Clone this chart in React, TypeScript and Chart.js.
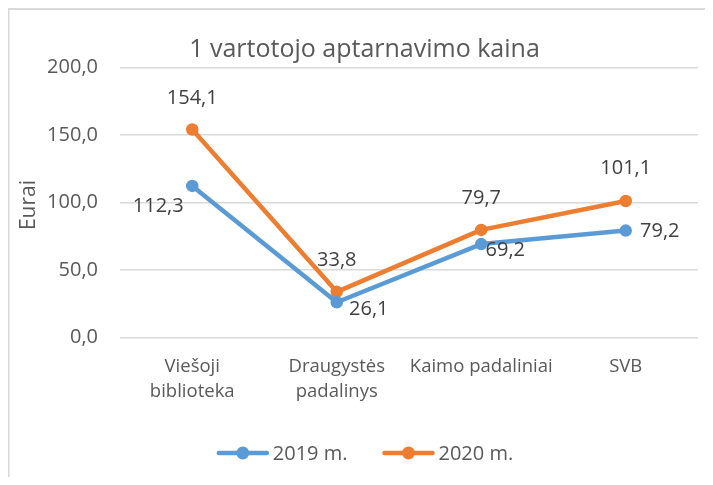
import React, { useEffect, useRef } from "react";
import { Chart, registerables } from "chart.js";

Chart.register(...registerables);

// ---- data ----
const categories: (string | string[])[] = [
  ["Viešoji", "biblioteka"],
  ["Draugystės", "padalinys"],
  "Kaimo padaliniai",
  "SVB",
];
const series2019 = [112.3, 26.1, 69.2, 79.2];
const series2020 = [154.1, 33.8, 79.7, 101.1];
const seriesNames = ["2019 m.", "2020 m."];
const yMin = 0;
const yMax = 200;
const yStep = 50;
const chartTitle = "1 vartotojo aptarnavimo kaina";
const yAxisTitle = "Eurai";

const FONT = "'Open Sans', 'Noto Sans', sans-serif";
const BLUE = "#5B9BD5";
const ORANGE = "#ED7D31";
const fmt = (v: number) => v.toFixed(1).replace(".", ",");

const decorPlugin = {
  id: "decor",
  beforeDraw(chart: any) {
    const ctx = chart.ctx;
    ctx.save();
    ctx.fillStyle = "#d9d9d9";
    ctx.fillRect(0, 0, chart.width, 2);
    ctx.fillRect(0, 0, 1.5, chart.height);
    ctx.restore();
  },
  afterDatasetsDraw(chart: any) {
    const ctx = chart.ctx;
    ctx.save();
    ctx.font = `20px ${FONT}`;
    ctx.fillStyle = "#404040";
    ctx.textAlign = "center";
    ctx.textBaseline = "middle";
    chart.data.datasets.forEach((ds: any, di: number) => {
      const meta = chart.getDatasetMeta(di);
      meta.data.forEach((pt: any, i: number) => {
        const [dx, dy] = ds.labelOffsets[i];
        ctx.fillText(fmt(ds.data[i]), pt.x + dx, pt.y + dy);
      });
    });
    ctx.restore();
  },
  afterDraw(chart: any, _args: any, opts: any) {
    const ctx = chart.ctx;
    ctx.save();
    // title
    ctx.font = `25px ${FONT}`;
    ctx.fillStyle = "#595959";
    ctx.textAlign = "center";
    ctx.textBaseline = "alphabetic";
    ctx.fillText(chartTitle, opts.titleX, opts.titleY);
    // y axis title
    ctx.save();
    ctx.translate(opts.axisTitleX, opts.axisTitleY);
    ctx.rotate(-Math.PI / 2);
    ctx.font = `21px ${FONT}`;
    ctx.textBaseline = "middle";
    ctx.fillText(yAxisTitle, 0, 0);
    ctx.restore();
    // legend
    ctx.font = `20px ${FONT}`;
    ctx.textBaseline = "middle";
    ctx.textAlign = "left";
    const lineLen = 48;
    const gap = 6;
    const itemGap = 37;
    const items = chart.data.datasets.map((ds: any) => ({
      label: ds.label,
      color: ds.borderColor,
      w: lineLen + gap + ctx.measureText(ds.label).width,
    }));
    const total = items.reduce((s: number, it: any) => s + it.w, 0) + itemGap * (items.length - 1);
    let x = opts.legendX - total / 2;
    const y = opts.legendY;
    items.forEach((it: any) => {
      ctx.strokeStyle = it.color;
      ctx.lineWidth = 4.5;
      ctx.lineCap = "round";
      ctx.beginPath();
      ctx.moveTo(x, y);
      ctx.lineTo(x + lineLen, y);
      ctx.stroke();
      ctx.fillStyle = it.color;
      ctx.beginPath();
      ctx.arc(x + lineLen / 2, y, 6.5, 0, Math.PI * 2);
      ctx.fill();
      ctx.fillStyle = "#595959";
      ctx.fillText(it.label, x + lineLen + gap, y + 1);
      x += it.w + itemGap;
    });
    ctx.restore();
  },
};

export default function App() {
  const ref = useRef<HTMLCanvasElement>(null);
  useEffect(() => {
    if (!ref.current) return;
    const chart = new Chart(ref.current, {
      type: "line",
      data: {
        labels: categories,
        datasets: [
          {
            label: seriesNames[0],
            data: series2019,
            borderColor: BLUE,
            backgroundColor: BLUE,
            borderWidth: 4.5,
            pointRadius: 5.5,
            pointBorderWidth: 1.5,
            borderCapStyle: "round",
            borderJoinStyle: "round",
            tension: 0,
            labelOffsets: [
              [-34, 20],
              [32, 7],
              [24, 6],
              [34, 1],
            ],
          } as any,
          {
            label: seriesNames[1],
            data: series2020,
            borderColor: ORANGE,
            backgroundColor: ORANGE,
            borderWidth: 4.5,
            pointRadius: 5.5,
            pointBorderWidth: 1.5,
            borderCapStyle: "round",
            borderJoinStyle: "round",
            tension: 0,
            labelOffsets: [
              [0, -31],
              [0, -32],
              [0, -32],
              [0, -33],
            ],
          } as any,
        ],
      },
      options: {
        animation: false,
        responsive: false,
        layout: { padding: { left: 0, right: 4, top: 59.5, bottom: 0 } },
        plugins: {
          legend: { display: false },
          title: { display: false },
          tooltip: { enabled: false },
          decor: {
            titleX: 356.5,
            titleY: 49,
            axisTitleX: 21,
            axisTitleY: 197,
            legendX: 358,
            legendY: 445,
          },
        } as any,
        scales: {
          x: {
            type: "category",
            offset: true,
            grid: { display: false, drawTicks: false },
            border: { display: false },
            ticks: {
              color: "#595959",
              font: { family: FONT, size: 18.5, lineHeight: 1.35 },
              padding: 17,
              maxRotation: 0,
              autoSkip: false,
            },
            afterFit: (s: any) => {
              s.height = 139.5;
            },
          },
          y: {
            min: yMin,
            max: yMax,
            grid: { color: "#d9d9d9", lineWidth: 1.5, drawTicks: false },
            border: { display: false },
            ticks: {
              stepSize: yStep,
              color: "#595959",
              font: { family: FONT, size: 20 },
              padding: 22,
              callback: (v: any) => fmt(Number(v)),
            },
            afterFit: (s: any) => {
              s.width = 112;
            },
          },
        },
      },
      plugins: [decorPlugin],
    });
    return () => chart.destroy();
  }, []);
  return <canvas ref={ref} width={697} height={469} style={{ display: "block" }} />;
}
